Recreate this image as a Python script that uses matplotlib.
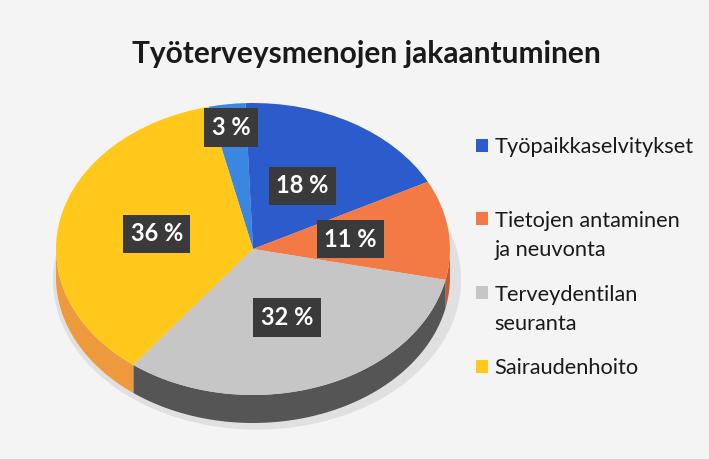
import numpy as np
import matplotlib
matplotlib.use("Agg")
import matplotlib.pyplot as plt
from matplotlib.legend_handler import HandlerPatch
from matplotlib.patches import Rectangle, Ellipse

# ---- data ----
values = [3, 18, 11, 32, 36]
slice_colors = ["#3a86e0", "#2c5ccc", "#f47a45", "#c6c6c6", "#ffc81a"]
side_colors = ["#2a6ab8", "#234a9e", "#c65a30", "#555555", "#ec9a3c"]
legend_labels = ["Työpaikkaselvitykset", "Tietojen antaminen\nja neuvonta",
                 "Terveydentilan\nseuranta", "Sairaudenhoito"]
title = "Työterveysmenojen jakaantuminen"

W, H = 709, 459
SY = 0.741           # vertical squash of the tilted pie
fig = plt.figure(figsize=(W / 100, H / 100), dpi=100, facecolor="#f4f4f4")
ax = fig.add_axes([0, 0, 1, 1])
ax.set_facecolor("#f4f4f4")

cx, cy = 253, (H - 249) / SY
R = 197
depth = 28 / SY

wedges, texts, autotexts = ax.pie(
    values, colors=slice_colors, startangle=103, counterclock=False,
    radius=R, center=(cx, cy), autopct=lambda p: f"{p:.0f} %",
    pctdistance=0.5, wedgeprops=dict(linewidth=0),
    textprops=dict(color="white", fontsize=17, fontweight="bold", family="Lato"))
for w in wedges:
    w.set_zorder(3)

# soft shadow
ax.add_patch(Ellipse((cx + 4, cy - depth - 4), 2 * R + 14, 2 * R + 10,
                     facecolor="#e0e0e0", edgecolor="none", zorder=0.5))

# 3D side walls (front half of the cylinder)
for w, sc in zip(wedges, side_colors):
    t1 = w.theta1 % 360
    t2 = t1 + (w.theta2 - w.theta1)
    for lo, hi in [(180, 360), (540, 720)]:
        a, b = max(t1, lo), min(t2, hi)
        if b > a:
            t = np.radians(np.linspace(a, b, 100))
            xs = np.concatenate([cx + R * np.cos(t), (cx + R * np.cos(t))[::-1]])
            ys = np.concatenate([cy + R * np.sin(t), (cy - depth + R * np.sin(t))[::-1]])
            ax.fill(xs, ys, color=sc, lw=0, zorder=2)

for i, (w, at) in enumerate(zip(wedges, autotexts)):
    at.set_bbox(dict(boxstyle="square,pad=0.32", facecolor="#3a3a3a", edgecolor="none"))
    at.set_zorder(5)
    if values[i] < 5:
        mid = np.radians((w.theta1 + w.theta2) / 2)
        at.set_position((cx + 0.84 * R * np.cos(mid), cy + 0.84 * R * np.sin(mid)))

ax.set_aspect("auto")
ax.set_xlim(0, W)
ax.set_ylim(0, H / SY)
ax.axis("off")

fig.text(366 / W, 1 - 63 / H, title, ha="center", va="baseline",
         fontsize=21.5, fontweight="bold", family="Lato", color="#1a1a1a")

# legend
LEG_FS = 15.7
HANDLE_SHIFT_PX = 17


class ShiftedPatch(HandlerPatch):
    def __init__(self, shift_pts=0, **kw):
        super().__init__(**kw)
        self.shift_pts = shift_pts

    def create_artists(self, legend, orig_handle, xdescent, ydescent, width,
                       height, fontsize, trans):
        p = Rectangle(xy=(-xdescent, -ydescent + self.shift_pts), width=width, height=height)
        self.update_prop(p, orig_handle, legend)
        p.set_transform(trans)
        return [p]


labels_padded = [lab if "\n" in lab else lab + "\n" for lab in legend_labels[:-1]] + [legend_labels[-1]]
handler_map = {}
for i, w in enumerate(wedges[1:]):
    shift = HANDLE_SHIFT_PX * 72 / 100 if i < len(legend_labels) - 1 else 0
    handler_map[w] = ShiftedPatch(shift_pts=shift)

leg = fig.legend(wedges[1:], labels_padded, handler_map=handler_map,
                 loc="upper left", bbox_to_anchor=(476 / W, 1 - 137 / H),
                 frameon=False, prop=dict(family="Lato", size=LEG_FS),
                 handlelength=0.55, handleheight=0.55, handletextpad=0.3,
                 labelspacing=1.11, borderpad=0, borderaxespad=0)
for t in leg.get_texts():
    t.set_linespacing(1.6)
    t.set_color("#1a1a1a")

fig.savefig("out.png", dpi=100, facecolor=fig.get_facecolor())
